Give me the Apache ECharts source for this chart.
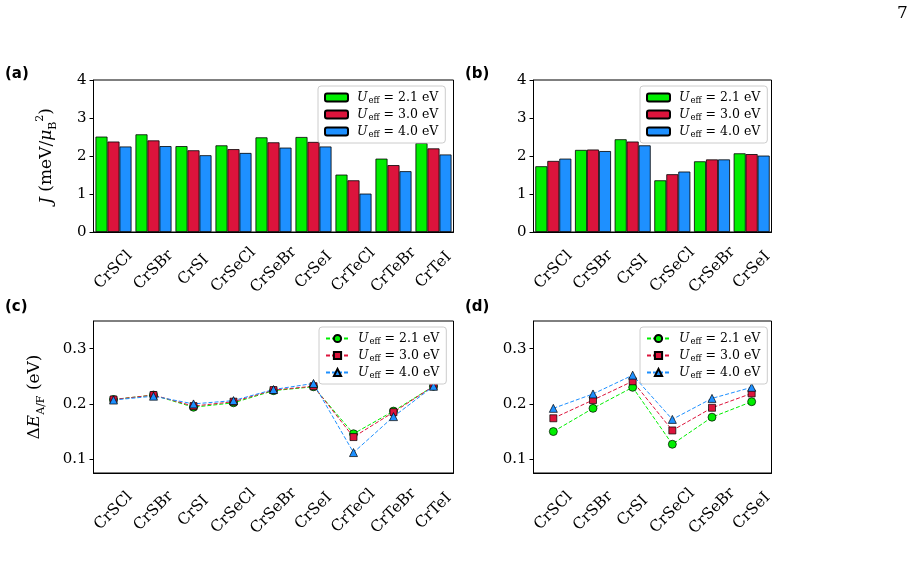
<!DOCTYPE html>
<html>
<head>
<meta charset="utf-8">
<script src="https://cdn.jsdelivr.net/npm/echarts@6/dist/echarts.min.js"></script>
<style>
  html, body { margin: 0; padding: 0; background: #fff; }
  #chart { width: 914px; height: 583px; }
</style>
</head>
<body>
<div id="chart"></div>
<script>
// compounds
var catsAll = ['CrSCl', 'CrSBr', 'CrSI', 'CrSeCl', 'CrSeBr', 'CrSeI', 'CrTeCl', 'CrTeBr', 'CrTeI'];
var catsSub = ['CrSCl', 'CrSBr', 'CrSI', 'CrSeCl', 'CrSeBr', 'CrSeI'];

// (a) J, meV/muB^2
var jA21 = [2.51, 2.57, 2.26, 2.28, 2.49, 2.50, 1.51, 1.93, 2.34];
var jA30 = [2.38, 2.41, 2.15, 2.18, 2.36, 2.37, 1.36, 1.76, 2.20];
var jA40 = [2.25, 2.26, 2.02, 2.08, 2.22, 2.25, 1.01, 1.60, 2.04];
// (b)
var jB21 = [1.73, 2.16, 2.44, 1.36, 1.86, 2.07];
var jB30 = [1.87, 2.17, 2.38, 1.52, 1.91, 2.05];
var jB40 = [1.93, 2.13, 2.28, 1.59, 1.91, 2.01];
// (c) dE A/F, eV
var eC21 = [0.208, 0.216, 0.194, 0.202, 0.224, 0.231, 0.146, 0.187, 0.232];
var eC30 = [0.208, 0.216, 0.196, 0.204, 0.225, 0.232, 0.140, 0.185, 0.232];
var eC40 = [0.207, 0.214, 0.200, 0.206, 0.226, 0.237, 0.112, 0.177, 0.232];
// (d)
var eD21 = [0.150, 0.192, 0.230, 0.127, 0.176, 0.204];
var eD30 = [0.174, 0.207, 0.241, 0.152, 0.193, 0.219];
var eD40 = [0.192, 0.218, 0.252, 0.172, 0.210, 0.230];

var jTicks = [0, 1, 2, 3, 4];
var eTicks = [0.1, 0.2, 0.3];
var uLabels = { '21': '2.1', '30': '3.0', '40': '4.0' };

var green = '#00ee00', red = '#dc143c', blue = '#1e90ff';
var serif = 'DejaVu Serif';

var chart = echarts.init(document.getElementById('chart'));

function xAx(grid, cats) {
    return {
        type: 'category', gridIndex: grid, data: cats,
        axisLine: { lineStyle: { color: '#000', width: 1 } },
        axisTick: { alignWithLabel: true, length: 4, lineStyle: { color: '#000' } },
        axisLabel: {
            rotate: 45, interval: 0, color: '#000', fontFamily: serif, fontSize: 15.5,
            align: 'center', verticalAlign: 'middle', margin: 38
        }
    };
}

function yAx(grid, min, max, ticks, name, gap) {
    return {
        type: 'value', gridIndex: grid, min: min, max: max,
        splitLine: { show: false },
        axisLine: { show: true, lineStyle: { color: '#000', width: 1 } },
        axisTick: { show: true, length: 4, customValues: ticks, lineStyle: { color: '#000' } },
        axisLabel: {
            color: '#000', fontFamily: serif, fontSize: 15, margin: 7, customValues: ticks,
            formatter: function (v) { return max < 1 ? v.toFixed(1) : String(v); }
        },
        name: name, nameLocation: 'middle', nameGap: gap, nameRotate: 90,
        nameTextStyle: {
            color: '#000', fontFamily: serif, fontSize: 17,
            rich: {
                n: { fontFamily: serif, fontSize: 17, color: '#000', lineHeight: 24 },
                i: { fontFamily: serif, fontStyle: 'italic', fontSize: 17, color: '#000', lineHeight: 24 },
                sub: { fontFamily: serif, fontSize: 11, color: '#000', verticalAlign: 'bottom', lineHeight: 24 },
                sup: { fontFamily: serif, fontSize: 11, color: '#000', verticalAlign: 'top', lineHeight: 24 }
            }
        }
    };
}

function bar(name, x, y, vals, color) {
    return {
        name: name, type: 'bar', xAxisIndex: x, yAxisIndex: y, data: vals,
        barWidth: 12, barGap: '0%',
        itemStyle: { color: color, borderColor: '#000', borderWidth: 0.8 }
    };
}

function line(name, x, y, vals, color, symbol, size) {
    return {
        name: name, type: 'line', xAxisIndex: x, yAxisIndex: y, data: vals,
        symbol: symbol, symbolSize: size,
        lineStyle: { color: color, width: 1, type: [4, 2] },
        itemStyle: { color: color, borderColor: '#000', borderWidth: 0.7 }
    };
}

function leg(left, top, names, h) {
    return {
        orient: 'vertical', left: left, top: top, data: names,
        itemWidth: 23, itemHeight: h, itemGap: 3,
        padding: [5, 7, 4, 6],
        backgroundColor: '#fff', borderColor: '#cccccc', borderWidth: 1, borderRadius: 3,
        formatter: function (n) {
            return '{i|U}{sub|eff}{n| = ' + uLabels[n.slice(1)] + ' eV}';
        },
        textStyle: {
            color: '#000', fontFamily: serif, fontSize: 12.5,
            rich: {
                n: { fontFamily: serif, fontSize: 12.5, color: '#000', lineHeight: 15 },
                i: { fontFamily: serif, fontStyle: 'italic', fontSize: 12.5, color: '#000', lineHeight: 15, padding: [0, 1, 0, 4] },
                sub: { fontFamily: serif, fontSize: 8.5, color: '#000', verticalAlign: 'bottom', lineHeight: 15 }
            }
        }
    };
}

var jName = '{i|J} {n|(meV/}{i|μ}{sub|B}{sup|2}{n|)}';
var eName = '{n|Δ}{i|E}{sub|A/F}{n| (eV)}';

var option = {
    animation: false,
    backgroundColor: '#fff',
    grid: [
        { left: 93.5, top: 80, width: 360, height: 152, show: true, borderColor: '#000', borderWidth: 1 },
        { left: 533.5, top: 80, width: 238, height: 152, show: true, borderColor: '#000', borderWidth: 1 },
        { left: 93.5, top: 321, width: 360, height: 152, show: true, borderColor: '#000', borderWidth: 1 },
        { left: 533.5, top: 321, width: 238, height: 152, show: true, borderColor: '#000', borderWidth: 1 }
    ],
    xAxis: [xAx(0, catsAll), xAx(1, catsSub), xAx(2, catsAll), xAx(3, catsSub)],
    yAxis: [
        yAx(0, 0, 4, jTicks, jName, 35),
        yAx(1, 0, 4, jTicks, '', 30),
        yAx(2, 0.075, 0.35, eTicks, eName, 47),
        yAx(3, 0.075, 0.35, eTicks, '', 30)
    ],
    legend: [
        leg(318, 86, ['b21', 'b30', 'b40'], 8),
        leg(640, 86, ['b21', 'b30', 'b40'], 8),
        leg(319, 327, ['l21', 'l30', 'l40'], 9),
        leg(640, 327, ['l21', 'l30', 'l40'], 9)
    ],
    series: [
        bar('b21', 0, 0, jA21, green), bar('b30', 0, 0, jA30, red), bar('b40', 0, 0, jA40, blue),
        bar('b21', 1, 1, jB21, green), bar('b30', 1, 1, jB30, red), bar('b40', 1, 1, jB40, blue),
        line('l21', 2, 2, eC21, green, 'circle', 8),
        line('l30', 2, 2, eC30, red, 'rect', 7),
        line('l40', 2, 2, eC40, blue, 'triangle', 8),
        line('l21', 3, 3, eD21, green, 'circle', 8),
        line('l30', 3, 3, eD30, red, 'rect', 7),
        line('l40', 3, 3, eD40, blue, 'triangle', 8)
    ],
    graphic: [
        { type: 'text', left: 5, top: 67, style: { text: '(a)', font: 'bold 15px "DejaVu Sans"', fill: '#000' } },
        { type: 'text', left: 465, top: 67, style: { text: '(b)', font: 'bold 15px "DejaVu Sans"', fill: '#000' } },
        { type: 'text', left: 5, top: 300, style: { text: '(c)', font: 'bold 15px "DejaVu Sans"', fill: '#000' } },
        { type: 'text', left: 465, top: 300, style: { text: '(d)', font: 'bold 15px "DejaVu Sans"', fill: '#000' } },
        { type: 'text', left: 897, top: 5, style: { text: '7', font: '17px "DejaVu Serif"', fill: '#000' } }
    ]
};

chart.setOption(option);
</script>
</body>
</html>
